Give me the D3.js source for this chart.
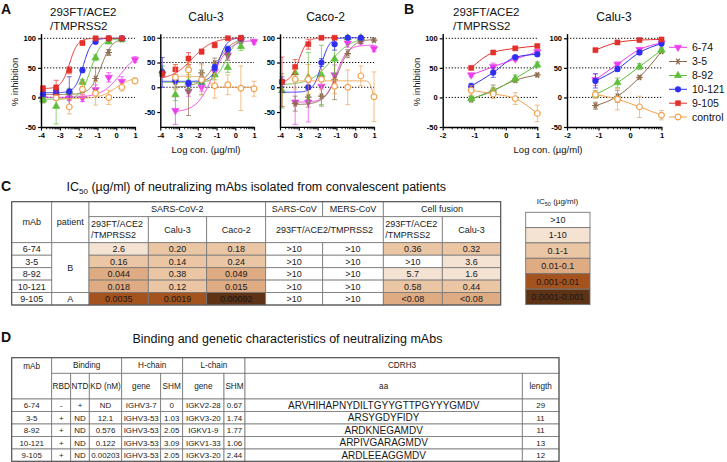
<!DOCTYPE html>
<html><head><meta charset="utf-8">
<script src="https://cdn.jsdelivr.net/npm/d3@7"></script>
<style>
body{margin:0;background:#fff}
svg{display:block}
text{font-family:"Liberation Sans",Arial,sans-serif}
</style>
</head><body><script>
// ---------------- DATA ----------------
const seriesNames = ["6-74","3-5","8-92","10-121","9-105","control"];
const seriesColors = ["#ec3dec","#8c6a4c","#5fbf3a","#2f2ff2","#e3302a","#f2a24e"];
const doseA = [-3.893,-3.194,-2.495,-1.796,-1.097,-0.398,0.301,1];
const doseB = [-1.097,-0.398,0.301,1];
const xTicksA = [-4,-3,-2,-1,0,1];
const xTicksB = [-2,-1,0,1];
const yTicks = [-50,0,50,100];

// Panel A, 293FT/ACE2/TMPRSS2 (rows follow seriesNames)
const a293Mean = [
  [-1,2,-1,-1,13,34,27,64],
  [-4,7,9,13,32,76,98,null],
  [-4,-15,10,26,67,94,98,null],
  [6,11,10,46,94,100,100,null],
  [15,17,46,92,100,100,100,null],
  [null,-1,-16,14,7,0,17,28]
];
const a293Err = [
  [4,4,4,6,8,8,8,5],
  [5,5,5,5,18,5,3,0],
  [5,30,4,4,5,3,2,0],
  [4,4,25,4,3,2,2,0],
  [5,12,6,3,2,2,2,0],
  [0,4,12,12,20,12,6,5]
];
// 4PL fits: [bottom, top, logIC50, hill]
const a293Fit = [[0,80,0.25,0.85],[5,100,-0.8,1.5],[-3,99,-1.35,1.6],[8,100,-1.75,2],[15,100,-2.48,2],[-2,35,0,1]];

// Panel A, Calu-3
const aCaluMean = [
  [null,-47,-8,0,32,65,93,92],
  [null,10,-7,29,49,66,95,null],
  [33,-15,10,10,25,40,82,null],
  [30,14,8,14,40,77,99,null],
  [27,36,58,72,85,99,100,null],
  [null,20,35,15,3,5,-2,-3]
];
const aCaluErr = [
  [0,28,10,8,8,8,5,5],
  [0,10,50,20,10,12,3,0],
  [10,12,15,25,10,10,8,0],
  [30,6,6,8,6,6,2,0],
  [6,10,12,5,5,2,2,0],
  [0,25,15,30,25,20,45,15]
];
const aCaluFit = [[-50,95,-1.2,1],[0,100,-1,1],[10,100,-0.5,1.5],[12,100,-0.85,2],[15,100,-2.3,0.8],[22,0,-1.4,3]];

// Panel A, Caco-2
const aCacoMean = [
  [null,-30,-30,2,25,89,93,78],
  [null,-33,-20,-18,15,68,93,95],
  [-7,29,20,25,57,100,100,null],
  [11,null,0,50,87,100,100,null],
  [11,41,87,100,100,null,null,null],
  [null,16,16,16,2,0,23,-19]
];
const aCacoErr = [
  [0,45,40,20,20,8,5,6],
  [0,15,20,20,40,8,5,3],
  [35,10,50,60,30,3,2,0],
  [10,0,4,8,12,2,2,0],
  [50,15,10,3,2,0,0,0],
  [0,20,30,20,15,35,20,50]
];
const aCacoFit = [[-30,85,-1.0,1.5],[-35,97,-0.9,1.2],[5,100,-1.3,0.8],[-10,100,-1.8,2],[10,100,-3.0,2],[13,-25,0.9,6]];

// Panel B
const b293Mean = [[38,52,65,77],[-3,12,29,38],[-2,11,32,55],[19,42,68,73],[50,76,83,87],[12,6,-2,-27]];
const b293Err = [[3,6,3,4],[5,9,3,3],[4,5,6,5],[5,8,3,3],[2,2,2,2],[8,8,10,14]];
const bCaluMean = [[30,56,81,92],[-14,2,34,78],[5,25,52,80],[28,48,76,91],[80,93,97,98],[5,-3,-16,-30]];
const bCaluErr = [[10,4,3,3],[6,10,3,3],[6,8,5,4],[12,4,3,3],[2,2,2,2],[6,18,18,8]];

// Table C
const tableMabs = ["6-74","3-5","8-92","10-121","9-105"];
const patients = ["B","B","B","B","A"];
const ic50_293 = ["2.6","0.16","0.044","0.018","0.0035"];
const ic50_calu = ["0.20","0.14","0.38","0.12","0.0019"];
const ic50_caco = ["0.18","0.24","0.049","0.015","0.00092"];
const ic50_sars = [">10",">10",">10",">10",">10"];
const ic50_mers = [">10",">10",">10",">10",">10"];
const fusion_293 = ["0.36",">10","5.7","0.58","<0.08"];
const fusion_calu = ["0.32","3.6","1.6","0.44","<0.08"];
const ic50Bins = [">10","1-10","0.1-1","0.01-0.1","0.001-0.01","0.0001-0.001"];
const ic50BinColors = ["#ffffff","#f4e2d2","#ebc6a5","#dfab83","#a5531e","#5d3215"];

// Table D
const rbd = ["-","+","+","+","+"];
const ntd = ["+","ND","ND","ND","ND"];
const kd = ["ND","12.1","0.576","0.122","0.00203"];
const hGene = ["IGHV3-7","IGHV3-53","IGHV3-53","IGHV3-53","IGHV3-53"];
const hShm = ["0","1.03","2.05","3.09","2.05"];
const lGene = ["IGKV2-28","IGKV3-20","IGKV1-9","IGKV1-33","IGKV3-20"];
const lShm = ["0.67","1.74","1.77","1.06","2.44"];
const cdrh3 = ["ARVHIHAPNYDILTGYYGTTPGYYYGMDV","ARSYGDYFIDY","ARDKNEGAMDV","ARPIVGARAGMDV","ARDLEEAGGMDV"];
const cdrLen = ["29","11","11","13","12"];

// ---------------- DRAW ----------------
const W = 727, H = 462;
const svg = d3.select("body").append("svg").attr("width", W).attr("height", H);

const symbolDefs = [
  {type: d3.symbolTriangle, rot: 180, size: 24, fill: true},
  {type: d3.symbolAsterisk, rot: 90, size: 30, fill: false},
  {type: d3.symbolTriangle, rot: 0, size: 24, fill: true},
  {type: d3.symbolCircle, rot: 0, size: 26, fill: true},
  {type: d3.symbolSquare, rot: 0, size: 26, fill: true},
  {type: d3.symbolCircle, rot: 0, size: 26, fill: false}
];
function drawMarker(g, i, cx, cy) {
  const s = symbolDefs[i];
  const p = g.append("path").attr("d", d3.symbol().type(s.type).size(s.size)())
    .attr("transform", `translate(${cx},${cy}) rotate(${s.rot})`);
  if (s.fill) p.attr("fill", seriesColors[i]).attr("stroke", seriesColors[i]).attr("stroke-width", 0.5);
  else p.attr("fill", i === 5 ? "#fff" : "none").attr("stroke", seriesColors[i]).attr("stroke-width", 1.2);
}
function fourPL(p, x) { return p[0] + (p[1] - p[0]) / (1 + Math.pow(10, (p[2] - x) * p[3])); }

function plotPanel(cfg) {
  const g = svg.append("g");
  const x = d3.scaleLinear().domain(cfg.xd).range([cfg.x0, cfg.x1]);
  const y = d3.scaleLinear().domain(cfg.yd).range([cfg.yb, cfg.yt]);
  [0, 50, 100].forEach(v => {
    g.append("line").attr("x1", cfg.x0).attr("x2", cfg.x1).attr("y1", y(v)).attr("y2", y(v))
      .attr("stroke", "#111").attr("stroke-width", 1).attr("stroke-dasharray", "1.3,1.7");
  });
  cfg.mean.forEach((row, si) => {
    const col = seriesColors[si];
    const pts = row.map((v, j) => ({x: cfg.dose[j], y: v, e: cfg.err[si][j]})).filter(d => d.y !== null);
    pts.forEach(d => {
      if (!d.e) return;
      const y1 = y(Math.max(d.y - d.e, cfg.yd[0])), y2 = y(d.y + d.e);
      g.append("line").attr("x1", x(d.x)).attr("x2", x(d.x)).attr("y1", y1).attr("y2", y2)
        .attr("stroke", col).attr("stroke-width", 0.9).attr("opacity", 0.75);
      [d.y - d.e, d.y + d.e].forEach(v => {
        if (v < cfg.yd[0]) return;
        g.append("line").attr("x1", x(d.x) - 2.5).attr("x2", x(d.x) + 2.5).attr("y1", y(v)).attr("y2", y(v))
          .attr("stroke", col).attr("stroke-width", 0.9).attr("opacity", 0.75);
      });
    });
    if (cfg.fit) {
      const p = cfg.fit[si];
      const xs = d3.range(pts[0].x, pts[pts.length - 1].x + 0.0001, 0.02);
      const linePts = xs.map(v => [x(v), y(fourPL(p, v))]);
      g.append("path").attr("d", d3.line()(linePts)).attr("fill", "none").attr("stroke", col).attr("stroke-width", 1);
    } else {
      g.append("path").attr("d", d3.line().x(d => x(d.x)).y(d => y(d.y)).curve(d3.curveMonotoneX)(pts))
        .attr("fill", "none").attr("stroke", col).attr("stroke-width", 1);
    }
    pts.forEach(d => drawMarker(g, si, x(d.x), y(d.y)));
  });
  const ya = g.append("g").attr("transform", `translate(${cfg.x0},0)`)
    .call(d3.axisLeft(y).tickValues(yTicks).tickSize(3).tickSizeOuter(0).tickPadding(2).tickFormat(d => String(d)));
  const xa = g.append("g").attr("transform", `translate(0,${cfg.yb})`)
    .call(d3.axisBottom(x).tickValues(cfg.xt).tickSize(3.5).tickSizeOuter(0).tickPadding(2).tickFormat(d => String(d)));
  [ya, xa].forEach(a => {
    a.select(".domain").attr("stroke", "#000").attr("stroke-width", 1.4);
    a.selectAll(".tick line").attr("stroke", "#000").attr("stroke-width", 1.2);
    a.selectAll("text").attr("font-size", 7.5).attr("font-weight", "bold").attr("fill", "#000")
      .attr("font-family", "Liberation Sans, Arial, sans-serif");
  });
  for (let k = cfg.xd[0]; k < cfg.xd[1]; k++) {
    for (let m = 2; m <= 9; m++) {
      const v = k + Math.log10(m);
      g.append("line").attr("x1", x(v)).attr("x2", x(v)).attr("y1", cfg.yb).attr("y2", cfg.yb + 2.3)
        .attr("stroke", "#000").attr("stroke-width", 0.9);
    }
  }
}

const yA1 = {yd: [-50, 108], yb: 127, yt: 127 - 158 * 0.5913};
const yA2 = {yd: [-80, 108], yb: 126.9, yt: 126.9 - 188 * 0.4953};

plotPanel(Object.assign({x0: 41, x1: 135, xd: [-4, 1], xt: xTicksA, dose: doseA, mean: a293Mean, err: a293Err, fit: a293Fit}, yA1));
plotPanel(Object.assign({x0: 160.3, x1: 254, xd: [-4, 1], xt: xTicksA, dose: doseA, mean: aCaluMean, err: aCaluErr, fit: aCaluFit}, yA2));
plotPanel(Object.assign({x0: 280, x1: 374, xd: [-4, 1], xt: xTicksA, dose: doseA, mean: aCacoMean, err: aCacoErr, fit: aCacoFit}, yA2));
plotPanel(Object.assign({x0: 442.7, x1: 537.3, xd: [-2, 1], xt: xTicksB, dose: doseB, mean: b293Mean, err: b293Err, fit: null}, yA1));
plotPanel(Object.assign({x0: 567, x1: 661.5, xd: [-2, 1], xt: xTicksB, dose: doseB, mean: bCaluMean, err: bCaluErr, fit: null}, yA1));

function txt(x, y, s, size, opts = {}) {
  const t = svg.append("text").attr("x", x).attr("y", y).attr("font-size", size).attr("fill", opts.fill || "#111")
    .attr("text-anchor", opts.anchor || "start").attr("font-weight", opts.weight || "normal").text(s);
  if (opts.rotate) t.attr("transform", `rotate(${opts.rotate},${x},${y})`);
  return t;
}
txt(1, 14, "A", 14, {weight: "bold"});
txt(404, 14, "B", 14, {weight: "bold"});
txt(1, 191, "C", 14, {weight: "bold"});
txt(1, 342, "D", 14, {weight: "bold"});

txt(50, 16.2, "293FT/ACE2", 11.5);
txt(50, 29.5, "/TMPRSS2", 11.5);
txt(206, 20.5, "Calu-3", 12, {anchor: "middle"});
txt(325.5, 20.5, "Caco-2", 12, {anchor: "middle"});
txt(453, 16.2, "293FT/ACE2", 11.5);
txt(453, 29.5, "/TMPRSS2", 11.5);
txt(614, 21, "Calu-3", 12, {anchor: "middle"});

txt(18, 82, "% inhibition", 9.5, {anchor: "middle", rotate: -90});
txt(420, 82, "% inhibition", 9.5, {anchor: "middle", rotate: -90});
txt(206, 153, "Log con. (µg/ml)", 9.5, {anchor: "middle"});
txt(548, 153, "Log con. (µg/ml)", 9.5, {anchor: "middle"});

const legY = [47.3, 61.5, 75.5, 89.3, 103.2, 117];
seriesNames.forEach((n, i) => {
  svg.append("line").attr("x1", 669).attr("x2", 687).attr("y1", legY[i]).attr("y2", legY[i])
    .attr("stroke", seriesColors[i]).attr("stroke-width", 1);
  drawMarker(svg, i, 678, legY[i]);
  txt(692, legY[i] + 3.8, n, 10.5);
});

// ---------------- TABLES ----------------
function drawTable(colE, rowE, cells, fs) {
  const g = svg.append("g");
  cells.forEach(c => {
    const x0 = colE[c.c0], x1 = colE[c.c1], y0 = rowE[c.r0], y1 = rowE[c.r1];
    g.append("rect").attr("x", x0).attr("y", y0).attr("width", x1 - x0).attr("height", y1 - y0)
      .attr("fill", c.fill || "#fff").attr("stroke", "#777").attr("stroke-width", 0.8);
    const lines = Array.isArray(c.t) ? c.t : [c.t];
    const lh = fs * 1.25;
    const f = c.fs || fs;
    lines.forEach((t, i) => {
      let ty = (y0 + y1) / 2 + (i - (lines.length - 1) / 2) * lh;
      if (c.top) ty = y0 + c.top;
      g.append("text").attr("x", c.align === "start" ? x0 + 2 : (x0 + x1) / 2).attr("y", ty).attr("dy", "0.35em")
        .attr("text-anchor", c.align || "middle").attr("font-size", f).attr("fill", "#1a1a1a").text(t);
    });
  });
  g.append("rect").attr("x", colE[0]).attr("y", rowE[0]).attr("width", colE[colE.length - 1] - colE[0])
    .attr("height", rowE[rowE.length - 1] - rowE[0]).attr("fill", "none").attr("stroke", "#555").attr("stroke-width", 1.1);
}
function binOf(s) {
  if (s.startsWith(">")) return 0;
  const v = s.startsWith("<") ? parseFloat(s.slice(1)) : parseFloat(s);
  if (v >= 1) return 1;
  if (v >= 0.1) return 2;
  if (v >= 0.01) return 3;
  if (v >= 0.001) return 4;
  return 5;
}

const tc = svg.append("text").attr("x", 66.5).attr("y", 191).attr("font-size", 12.5).attr("fill", "#111");
tc.append("tspan").text("IC");
tc.append("tspan").attr("font-size", 8).attr("dy", 2.5).text("50");
tc.append("tspan").attr("dy", -2.5).text(" (µg/ml) of neutralizing mAbs isolated from convalescent patients");

const colC = [11.7, 51.7, 89, 148.3, 206.7, 265.7, 322.7, 383.3, 442.3, 500.7];
const rowC = [201.7, 216.7, 242.7, 255.2, 267.7, 280.1, 292.6, 305];
const cellsC = [
  {r0: 0, r1: 2, c0: 0, c1: 1, t: "mAb"},
  {r0: 0, r1: 2, c0: 1, c1: 2, t: "patient"},
  {r0: 0, r1: 1, c0: 2, c1: 5, t: "SARS-CoV-2"},
  {r0: 0, r1: 1, c0: 5, c1: 6, t: "SARS-CoV"},
  {r0: 0, r1: 1, c0: 6, c1: 7, t: "MERS-CoV"},
  {r0: 0, r1: 1, c0: 7, c1: 9, t: "Cell fusion"},
  {r0: 1, r1: 2, c0: 2, c1: 3, t: ["293FT/ACE2", "/TMPRSS2"], align: "start"},
  {r0: 1, r1: 2, c0: 3, c1: 4, t: "Calu-3"},
  {r0: 1, r1: 2, c0: 4, c1: 5, t: "Caco-2"},
  {r0: 1, r1: 2, c0: 5, c1: 7, t: "293FT/ACE2/TMPRSS2"},
  {r0: 1, r1: 2, c0: 7, c1: 8, t: ["293FT/ACE2", "/TMPRSS2"], align: "start"},
  {r0: 1, r1: 2, c0: 8, c1: 9, t: "Calu-3"},
  {r0: 2, r1: 6, c0: 1, c1: 2, t: "B"},
  {r0: 6, r1: 7, c0: 1, c1: 2, t: "A"}
];
const cCols = [ic50_293, ic50_calu, ic50_caco, ic50_sars, ic50_mers, fusion_293, fusion_calu];
tableMabs.forEach((m, i) => {
  cellsC.push({r0: i + 2, r1: i + 3, c0: 0, c1: 1, t: m});
  cCols.forEach((arr, j) => {
    cellsC.push({r0: i + 2, r1: i + 3, c0: j + 2, c1: j + 3, t: arr[i], fill: ic50BinColors[binOf(arr[i])]});
  });
});
drawTable(colC, rowC, cellsC, 9);

const lt = svg.append("text").attr("x", 557.5).attr("y", 204).attr("text-anchor", "middle").attr("font-size", 8).attr("fill", "#222");
lt.append("tspan").text("IC");
lt.append("tspan").attr("font-size", 5.5).attr("dy", 1.5).text("50");
lt.append("tspan").attr("dy", -1.5).text(" (µg/ml)");
const legRows = [212.3, 227.6, 242.9, 258.3, 273.7, 289.2, 304.6];
ic50Bins.forEach((b, i) => {
  svg.append("rect").attr("x", 525.7).attr("y", legRows[i]).attr("width", 64.3).attr("height", legRows[i + 1] - legRows[i])
    .attr("fill", ic50BinColors[i]).attr("stroke", "#777").attr("stroke-width", 0.9);
  svg.append("text").attr("x", 557.8).attr("y", (legRows[i] + legRows[i + 1]) / 2).attr("dy", "0.35em")
    .attr("text-anchor", "middle").attr("font-size", 9).attr("fill", "#1a1a1a").text(b);
});

txt(132.5, 343, "Binding and genetic characteristics of neutralizing mAbs", 12.5);
const colD = [11.7, 51.7, 70.7, 89.3, 121.7, 160.7, 182.7, 224, 245, 522.3, 559];
const rowD = [357.7, 373.3, 399, 411.5, 424, 436.5, 449, 461.3];
const cellsD = [
  {r0: 0, r1: 2, c0: 0, c1: 1, t: "mAb", top: 8},
  {r0: 0, r1: 1, c0: 1, c1: 4, t: "Binding"},
  {r0: 0, r1: 1, c0: 4, c1: 6, t: "H-chain"},
  {r0: 0, r1: 1, c0: 6, c1: 8, t: "L-chain"},
  {r0: 0, r1: 1, c0: 8, c1: 10, t: "CDRH3"},
  {r0: 1, r1: 2, c0: 1, c1: 2, t: "RBD"},
  {r0: 1, r1: 2, c0: 2, c1: 3, t: "NTD"},
  {r0: 1, r1: 2, c0: 3, c1: 4, t: "KD (nM)"},
  {r0: 1, r1: 2, c0: 4, c1: 5, t: "gene"},
  {r0: 1, r1: 2, c0: 5, c1: 6, t: "SHM"},
  {r0: 1, r1: 2, c0: 6, c1: 7, t: "gene"},
  {r0: 1, r1: 2, c0: 7, c1: 8, t: "SHM"},
  {r0: 1, r1: 2, c0: 8, c1: 9, t: "aa"},
  {r0: 1, r1: 2, c0: 9, c1: 10, t: "length"}
];
const dCols = [tableMabs, rbd, ntd, kd, hGene, hShm, lGene, lShm, cdrh3, cdrLen];
tableMabs.forEach((m, i) => {
  dCols.forEach((arr, j) => {
    cellsD.push({r0: i + 2, r1: i + 3, c0: j, c1: j + 1, t: arr[i], fs: j === 8 ? 10 : 7.9});
  });
});
drawTable(colD, rowD, cellsD, 8.2);
</script></body></html>
